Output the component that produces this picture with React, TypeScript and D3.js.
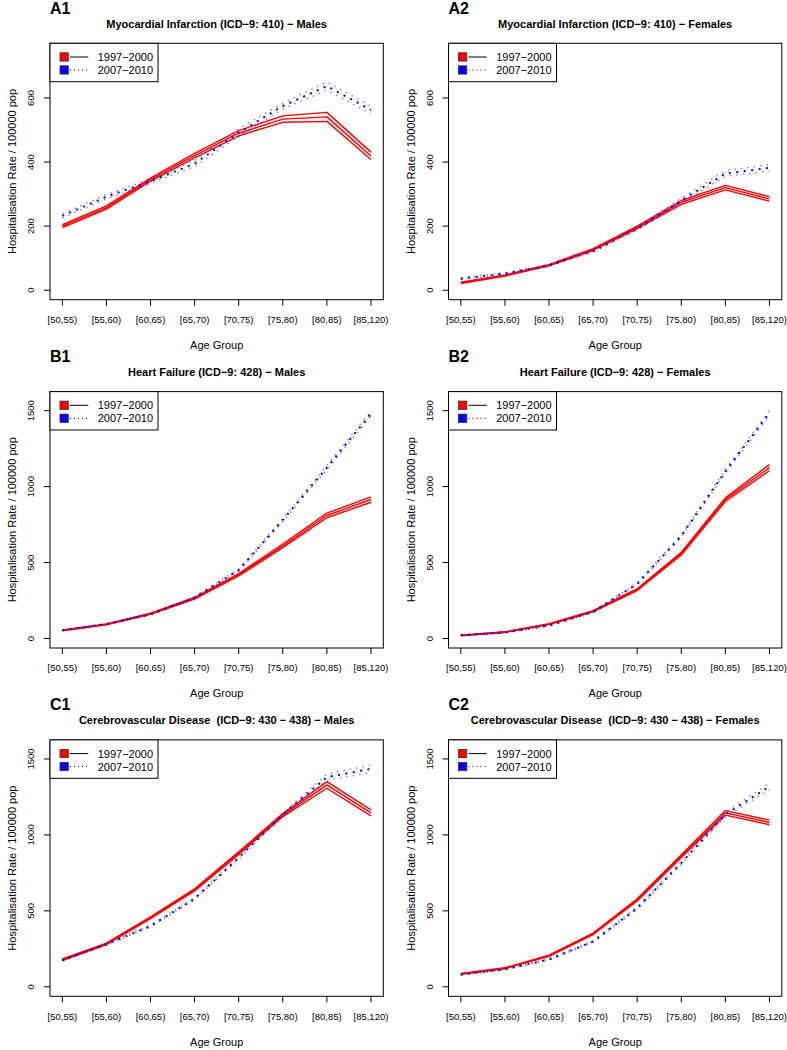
import React from "react";
import * as d3 from "d3";

// Age bands on the x axis, and the two study periods
const AGE_GROUPS = ["[50,55)", "[55,60)", "[60,65)", "[65,70)", "[70,75)", "[75,80)", "[80,85)", "[85,120)"];
const PERIODS = ["1997\u22122000", "2007\u22122010"];

// A1 – Myocardial infarction, males
const a1Early = [200, 258, 345, 420, 490, 534, 541, 419];
const a1EarlyLo = [195, 253, 340, 413, 482, 524, 527, 408];
const a1EarlyHi = [205, 263, 350, 427, 498, 544, 555, 431];
const a1Late = [232, 292, 340, 395, 492, 575, 637, 563];
const a1LateLo = [225, 285, 333, 386, 480, 566, 624, 551];
const a1LateHi = [239, 299, 347, 404, 504, 584, 650, 575];

// A2 – Myocardial infarction, females
const a2Early = [23, 46, 78, 127, 196, 274, 320, 285];
const a2EarlyLo = [21, 44, 76, 124, 192, 268, 313, 278];
const a2EarlyHi = [25, 48, 80, 130, 200, 280, 327, 292];
const a2Late = [36, 52, 78, 122, 192, 280, 364, 382];
const a2LateLo = [33, 49, 75, 118, 187, 273, 355, 372];
const a2LateHi = [39, 55, 81, 126, 197, 287, 373, 392];

// B1 – Heart failure, males
const b1Early = [53, 93, 163, 265, 420, 610, 810, 915];
const b1EarlyLo = [50, 90, 159, 259, 412, 598, 795, 897];
const b1EarlyHi = [56, 96, 167, 271, 428, 622, 825, 933];
const b1Late = [55, 95, 158, 270, 450, 780, 1125, 1480];
const b1LateLo = [52, 92, 154, 264, 442, 770, 1112, 1464];
const b1LateHi = [58, 98, 162, 276, 458, 790, 1138, 1496];

// B2 – Heart failure, females
const b2Early = [20, 42, 95, 180, 322, 559, 914, 1125];
const b2EarlyLo = [18, 40, 92, 176, 316, 550, 902, 1105];
const b2EarlyHi = [22, 44, 98, 184, 328, 568, 926, 1145];
const b2Late = [22, 40, 85, 175, 360, 675, 1100, 1485];
const b2LateLo = [20, 37, 81, 170, 353, 666, 1088, 1468];
const b2LateHi = [24, 43, 89, 180, 367, 684, 1112, 1502];

// C1 – Cerebrovascular disease, males
const c1Early = [178, 283, 455, 638, 880, 1130, 1329, 1145];
const c1EarlyLo = [173, 278, 449, 631, 871, 1120, 1307, 1125];
const c1EarlyHi = [183, 288, 461, 645, 889, 1140, 1351, 1165];
const c1Late = [175, 280, 400, 580, 850, 1135, 1380, 1435];
const c1LateLo = [170, 275, 394, 573, 841, 1124, 1360, 1410];
const c1LateHi = [180, 285, 406, 587, 859, 1146, 1400, 1460];

// C2 – Cerebrovascular disease, females
const c2Early = [85, 122, 205, 349, 572, 860, 1145, 1082];
const c2EarlyLo = [82, 119, 201, 344, 565, 851, 1130, 1067];
const c2EarlyHi = [88, 125, 209, 354, 579, 869, 1160, 1097];
const c2Late = [80, 115, 180, 298, 518, 815, 1135, 1318];
const c2LateLo = [77, 112, 176, 292, 510, 805, 1118, 1298];
const c2LateHi = [83, 118, 184, 304, 526, 825, 1152, 1338];

const LABELS = ["A1", "A2", "B1", "B2", "C1", "C2"];
const TITLES = [
  "Myocardial Infarction (ICD\u22129: 410) \u2212 Males",
  "Myocardial Infarction (ICD\u22129: 410) \u2212 Females",
  "Heart Failure (ICD\u22129: 428) \u2212 Males",
  "Heart Failure (ICD\u22129: 428) \u2212 Females",
  "Cerebrovascular Disease  (ICD\u22129: 430 \u2212 438) \u2212 Males",
  "Cerebrovascular Disease  (ICD\u22129: 430 \u2212 438) \u2212 Females",
];
const Y_LIMITS = [741, 741, 1563, 1563, 1563, 1563];
const Y_TICKS_A = [0, 200, 400, 600];
const Y_TICKS_BC = [0, 500, 1000, 1500];
const Y_TITLE = "Hospitalisation Rate / 100000 pop";
const X_TITLE = "Age Group";

interface Band {
  est: number[];
  lo: number[];
  hi: number[];
}
interface PanelData {
  early: Band;
  late: Band;
}

const PANELS: PanelData[] = [
  { early: { est: a1Early, lo: a1EarlyLo, hi: a1EarlyHi }, late: { est: a1Late, lo: a1LateLo, hi: a1LateHi } },
  { early: { est: a2Early, lo: a2EarlyLo, hi: a2EarlyHi }, late: { est: a2Late, lo: a2LateLo, hi: a2LateHi } },
  { early: { est: b1Early, lo: b1EarlyLo, hi: b1EarlyHi }, late: { est: b1Late, lo: b1LateLo, hi: b1LateHi } },
  { early: { est: b2Early, lo: b2EarlyLo, hi: b2EarlyHi }, late: { est: b2Late, lo: b2LateLo, hi: b2LateHi } },
  { early: { est: c1Early, lo: c1EarlyLo, hi: c1EarlyHi }, late: { est: c1Late, lo: c1LateLo, hi: c1LateHi } },
  { early: { est: c2Early, lo: c2EarlyLo, hi: c2EarlyHi }, late: { est: c2Late, lo: c2LateLo, hi: c2LateHi } },
];

const W = 787;
const H = 1050;
const COL_X = [0, 398.5];
const ROW_Y = [0, 348.3, 696.6];
const FONT = "'Liberation Sans', Arial, Helvetica, sans-serif";
const RED = "#ff0000";
const BLUE = "#0000ff";

interface PanelProps {
  ox: number;
  oy: number;
  label: string;
  title: string;
  data: PanelData;
  yMax: number;
  yTicks: number[];
}

const Panel: React.FC<PanelProps> = ({ ox, oy, label, title, data, yMax, yTicks }) => {
  const L = ox + 50;
  const R = ox + 383.3;
  const T = oy + 43.3;
  const B = oy + 299.7;

  // R-style 4% axis expansion
  const n = AGE_GROUPS.length;
  const xPad = (n - 1) * 0.04;
  const x = d3.scaleLinear().domain([1 - xPad, n + xPad]).range([L, R]);
  const y = d3.scaleLinear().domain([-0.04 * yMax, 1.04 * yMax]).range([B, T]);

  const line = d3
    .line<number>()
    .x((_, i) => x(i + 1))
    .y((v) => y(v));

  const cx = (L + R) / 2;
  const cy = (T + B) / 2;
  const row1 = T + 13.7;
  const row2 = T + 26.7;

  return (
    <g fontFamily={FONT}>
      <text x={L} y={oy + 13.5} fontSize={16} fontWeight="bold">
        {label}
      </text>
      <text x={cx} y={oy + 27.7} fontSize={11} fontWeight="bold" textAnchor="middle" style={{ whiteSpace: "pre" }}>
        {title}
      </text>

      {/* early period: estimate + CI, solid red */}
      {[data.early.lo, data.early.hi, data.early.est].map((s, i) => (
        <path key={`e${i}`} d={line(s) ?? ""} fill="none" stroke={RED} strokeWidth={1.4} strokeLinejoin="round" />
      ))}

      {/* late period: estimate + CI, dotted blue */}
      {[data.late.lo, data.late.hi].map((s, i) => (
        <path
          key={`l${i}`}
          d={line(s) ?? ""}
          fill="none"
          stroke={BLUE}
          strokeOpacity={0.55}
          strokeWidth={1.3}
          strokeDasharray="1.5 5"
        />
      ))}
      <path d={line(data.late.est) ?? ""} fill="none" stroke={BLUE} strokeWidth={2} strokeDasharray="2 5.5" />

      {/* plot box */}
      <rect x={L} y={T} width={R - L} height={B - T} fill="none" stroke="#000" strokeWidth={1} />

      {/* x axis */}
      {AGE_GROUPS.map((g, i) => (
        <g key={g}>
          <line x1={x(i + 1)} x2={x(i + 1)} y1={B} y2={B + 6} stroke="#000" />
          <text x={x(i + 1)} y={oy + 323} fontSize={9.5} textAnchor="middle">
            {g}
          </text>
        </g>
      ))}
      <text x={cx} y={oy + 349} fontSize={11} textAnchor="middle">
        {X_TITLE}
      </text>

      {/* y axis */}
      {yTicks.map((t) => (
        <g key={t}>
          <line x1={L - 6} x2={L} y1={y(t)} y2={y(t)} stroke="#000" />
          <text transform={`translate(${L - 16},${y(t)}) rotate(-90)`} fontSize={9.5} textAnchor="middle">
            {t}
          </text>
        </g>
      ))}
      <text transform={`translate(${ox + 16.2},${cy}) rotate(-90)`} fontSize={11} textAnchor="middle">
        {Y_TITLE}
      </text>

      {/* legend */}
      <rect x={L} y={T} width={108} height={38.4} fill="#fff" stroke="#000" strokeWidth={1} />
      <rect x={L + 10} y={row1 - 4.2} width={8.3} height={8.3} fill={RED} stroke="#333" strokeWidth={0.8} />
      <line x1={L + 20} x2={L + 38.3} y1={row1} y2={row1} stroke="#000" strokeWidth={1} />
      <text x={L + 47.7} y={row1 + 4} fontSize={11}>
        {PERIODS[0]}
      </text>
      <rect x={L + 10} y={row2 - 4.2} width={8.3} height={8.3} fill={BLUE} stroke="#333" strokeWidth={0.8} />
      <line x1={L + 20} x2={L + 38.3} y1={row2} y2={row2} stroke="#000" strokeWidth={1} strokeDasharray="1 3" />
      <text x={L + 47.7} y={row2 + 4} fontSize={11}>
        {PERIODS[1]}
      </text>
    </g>
  );
};

const App: React.FC = () => (
  <svg width={W} height={H} viewBox={`0 0 ${W} ${H}`} style={{ position: "absolute", left: 0, top: 0, background: "#fff" }}>
    <rect width={W} height={H} fill="#fff" />
    {PANELS.map((p, i) => (
      <Panel
        key={LABELS[i]}
        ox={COL_X[i % 2]}
        oy={ROW_Y[Math.floor(i / 2)]}
        label={LABELS[i]}
        title={TITLES[i]}
        data={p}
        yMax={Y_LIMITS[i]}
        yTicks={i < 2 ? Y_TICKS_A : Y_TICKS_BC}
      />
    ))}
  </svg>
);

export default App;
